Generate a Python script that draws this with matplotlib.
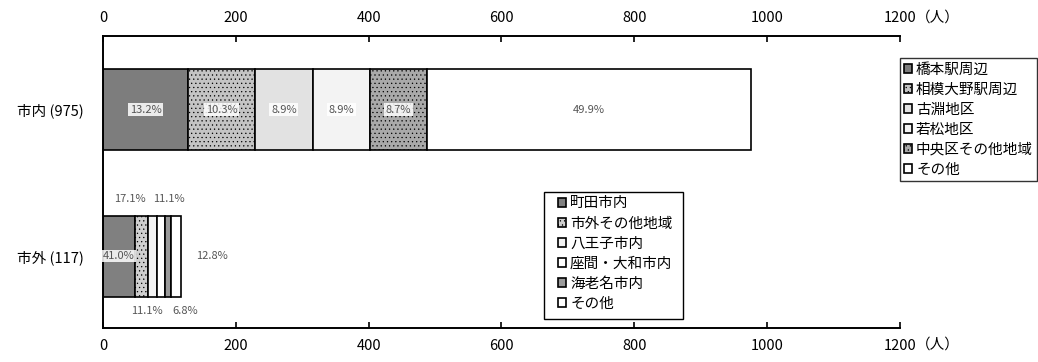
import matplotlib
matplotlib.use("Agg")
import matplotlib.pyplot as plt
from matplotlib.patches import Rectangle
import numpy as np

plt.rcParams['font.family'] = ['Noto Sans CJK JP', 'DejaVu Sans']

# data
categories = ['市内 (975)', '市外 (117)']
inner_names = ['橋本駅周辺', '相模大野駅周辺', '古淵地区', '若松地区', '中央区その他地域', 'その他']
inner_values = [128.7, 100.4, 86.8, 86.8, 84.8, 487.5]   # 975人の内訳
inner_pcts = ['13.2%', '10.3%', '8.9%', '8.9%', '8.7%', '49.9%']
outer_names = ['町田市内', '市外その他地域', '八王子市内', '座間・大和市内', '海老名市内', 'その他']
outer_values = [48, 20, 13, 13, 8, 15]   # 117人の内訳
outer_pcts = ['41.0%', '17.1%', '11.1%', '11.1%', '6.8%', '12.8%']
xticks = [0, 200, 400, 600, 800, 1000, 1200]

inner_colors = ['#7d7d7d', '#c4c4c4', '#e2e2e2', '#f3f3f3', '#a9a9a9', '#ffffff']
inner_hatch = [None, '....', None, None, '....', None]
outer_colors = ['#808080', '#cfcfcf', '#f2f2f2', '#ffffff', '#9a9a9a', '#ffffff']
outer_hatch = [None, '....', None, None, None, None]

W, H = 1038, 362
fig = plt.figure(figsize=(W / 100, H / 100), dpi=100)
ax = fig.add_axes([0.0992, 0.0939, 0.7678, 0.8067])

plt.rcParams['hatch.color'] = '#aaaaaa'
plt.rcParams['hatch.linewidth'] = 0.4

bh = 0.553
left = 0
h1 = []
for v, c, ht in zip(inner_values, inner_colors, inner_hatch):
    b = ax.barh(0, v, left=left, height=bh, color=c, edgecolor='black', linewidth=1.2, hatch=ht)
    h1.append(b[0])
    left += v
left = 0
h2 = []
for v, c, ht in zip(outer_values, outer_colors, outer_hatch):
    b = ax.barh(1, v, left=left, height=bh, color=c, edgecolor='black', linewidth=1.2, hatch=ht)
    h2.append(b[0])
    left += v

# percent labels, 市内
cum = np.cumsum([0] + inner_values)
for i, p in enumerate(inner_pcts):
    cx = (cum[i] + cum[i + 1]) / 2
    bbox = dict(boxstyle='square,pad=0.15', fc='white', ec='none', alpha=0.85) if i < 5 else None
    ax.text(cx, 0, p, ha='center', va='center', fontsize=8, color='#555555', bbox=bbox)

# percent labels, 市外 (placed around the narrow bar)
outer_label_pos = [(24, 1.0), (40, 0.61), (100, 0.61), (66, 1.375), (124, 1.375), (164, 1.0)]
for p, (x, y) in zip(outer_pcts, outer_label_pos):
    bbox = dict(boxstyle='square,pad=0.1', fc='white', ec='none', alpha=0.85) if x < 30 else None
    ax.text(x, y, p, ha='center', va='center', fontsize=8, color='#555555', bbox=bbox)

ax.set_xlim(0, 1200)
ax.set_ylim(1.491, -0.502)
ax.set_xticks(xticks)
ax.set_xticklabels([str(t) for t in xticks])
ax.xaxis.set_ticks_position('both')
ax.tick_params(axis='x', direction='in', length=4, width=1.2, labeltop=True, labelbottom=True,
               labelsize=10.5, pad=8, colors='black')
ax.set_yticks([0, 1])
ax.set_yticklabels(categories, fontsize=10.5)
ax.tick_params(axis='y', length=0, pad=14)
ax.spines['right'].set_visible(False)
for s in ['top', 'bottom', 'left']:
    ax.spines[s].set_linewidth(1.4)

fig.text(916 / W, 0.951, '（人）', fontsize=10.5, ha='left', va='center')
fig.text(916 / W, 0.047, '（人）', fontsize=10.5, ha='left', va='center')

leg_kw = dict(loc='upper left', fancybox=False, edgecolor='black', fontsize=10.5,
              handlelength=0.55, handleheight=0.55, handletextpad=0.25,
              labelspacing=0.42, borderpad=0.3, borderaxespad=0)
leg1 = fig.legend(h1, inner_names, bbox_to_anchor=(900 / W, 1 - 58 / H), frameon=True, **leg_kw)
leg1.get_frame().set_linewidth(1.0)

# second legend: frame drawn separately so the entries sit indented
leg2 = fig.legend(h2, outer_names, bbox_to_anchor=(554 / W, 1 - 192 / H), frameon=False, **leg_kw)
fig.add_artist(Rectangle((544 / W, 1 - 319 / H), 139 / W, 127 / H, transform=fig.transFigure,
                         fill=False, edgecolor='black', linewidth=1.0))

fig.savefig('out.png', dpi=100)
